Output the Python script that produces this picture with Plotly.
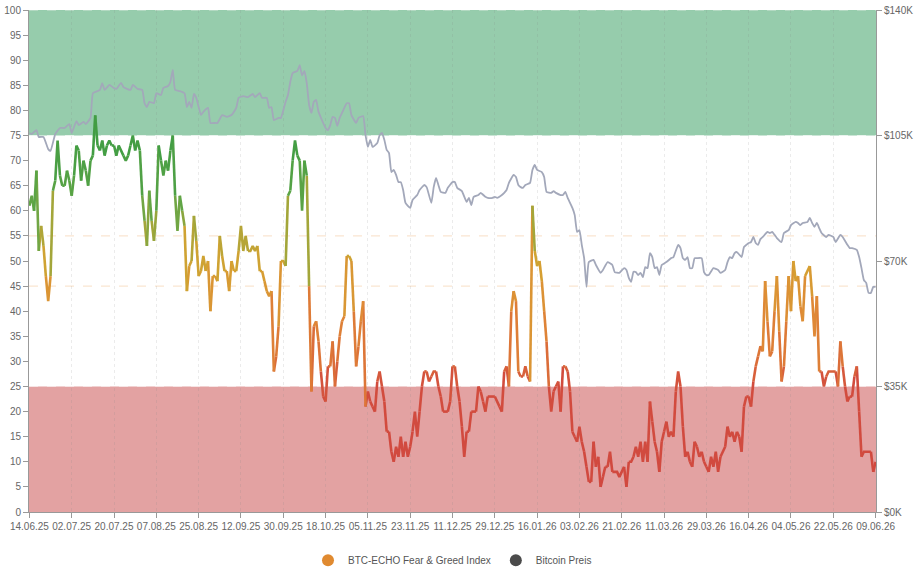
import plotly.graph_objects as go
import pandas as pd

START = "2025-06-14"
END = "2026-06-09"

# BTC-ECHO Fear & Greed Index, one value per day starting at START
FG = [
    61, 63, 60, 68, 52, 57, 53, 47, 42, 47,
    64, 66, 74, 67, 65, 65, 68, 66, 63, 67,
    73, 72, 66, 70, 68, 65, 70, 71, 79, 73,
    72, 74, 71, 73, 74, 73, 73, 71, 73, 72,
    71, 70, 71, 73, 75, 72, 74, 72, 63, 58,
    53, 64, 58, 54, 60, 73, 70, 67, 70, 68,
    72, 75, 63, 56, 63, 60, 57, 44, 49, 50,
    59, 54, 47, 48, 51, 48, 50, 40, 47, 47,
    46, 55, 51, 48, 48, 44, 50, 48, 48, 52,
    57, 52, 55, 52, 52, 53, 52, 53, 48, 48,
    46, 44, 43, 44, 28, 31, 37, 50, 50, 49,
    63, 64, 70, 74, 71, 70, 60, 70, 67, 45,
    24, 37, 38, 34, 28, 23, 22, 29, 29, 34,
    25, 30, 35, 38, 39, 51, 51, 50, 40, 29,
    33, 38, 42, 21, 24, 22, 21, 20, 26, 28,
    25, 22, 16, 16, 12, 10, 13, 11, 15, 11,
    14, 11, 13, 16, 20, 15, 20, 25, 28, 28,
    26, 27, 28, 28, 25, 23, 20, 20, 20, 22,
    29, 29, 25, 22, 17, 11, 16, 16, 20, 20,
    20, 25, 24, 22, 20, 23, 23, 23, 23, 22,
    21, 20, 28, 29, 25, 40, 44, 42, 28, 27,
    27, 29, 27, 26, 61, 52, 49, 50, 46, 40,
    34, 25, 20, 24, 25, 26, 20, 29, 29, 28,
    24, 16, 15, 14, 17, 14, 12, 9, 6, 6,
    14, 9, 11, 5, 7, 9, 9, 12, 8, 8,
    8, 7, 8, 9, 5, 10, 10, 11, 13, 11,
    14, 10, 14, 10, 22, 18, 14, 12, 8, 14,
    16, 18, 15, 16, 15, 24, 28, 25, 17, 11,
    12, 10, 9, 14, 13, 11, 12, 10, 9, 8,
    11, 9, 12, 8, 11, 12, 13, 17, 15, 16,
    14, 16, 15, 12, 21, 23, 23, 21, 26, 29,
    31, 33, 32, 46, 38, 31, 32, 40, 47, 36,
    26, 29, 38, 47, 40, 50, 46, 47, 41, 38,
    47, 48, 49, 43, 35, 43, 28, 28, 25, 27,
    28, 28, 28, 28, 25, 34, 29, 25, 22, 23,
    23, 27, 29, 20, 11, 12, 12, 12, 12, 8, 10,
]

# Bitcoin price (thousand USD) at day offsets from START
BTC_DAY = [
    0, 1, 3, 4, 6, 8, 9, 11, 13, 15, 17, 18, 20, 21, 23, 24, 26, 27, 29, 30,
    31, 32, 34, 36, 37, 39, 40, 43, 44, 46, 48, 49, 50, 51, 53, 54, 56, 57, 59, 60,
    61, 62, 64, 66, 67, 68, 69, 70, 71, 73, 74, 76, 77, 79, 80, 82, 84, 86, 88, 89,
    91, 93, 95, 96, 98, 99, 101, 102, 103, 104, 106, 107, 109, 110, 111, 112, 114, 115, 116, 117,
    118, 119, 120, 121, 122, 123, 126, 127, 128, 129, 130, 131, 132, 133, 135, 136, 137, 139, 140, 142,
    143, 144, 145, 146, 148, 149, 150, 151, 152, 153, 154, 155, 156, 157, 158, 159, 160, 162, 163, 165,
    166, 168, 169, 171, 172, 173, 174, 175, 177, 178, 180, 181, 182, 184, 186, 187, 188, 189, 191, 192,
    194, 195, 197, 198, 199, 201, 202, 203, 204, 206, 207, 208, 209, 210, 211, 213, 214, 215, 216, 218,
    219, 220, 222, 223, 224, 226, 227, 228, 229, 231, 232, 233, 234, 235, 236, 237, 238, 240, 241, 243,
    244, 246, 248, 249, 251, 253, 254, 255, 256, 257, 258, 259, 260, 261, 262, 263, 264, 265, 266, 267,
    268, 269, 271, 273, 274, 276, 277, 278, 279, 280, 281, 282, 283, 284, 286, 287, 288, 289, 291, 293,
    294, 296, 297, 298, 299, 300, 301, 303, 304, 305, 306, 307, 308, 309, 310, 311, 312, 314, 315, 316,
    317, 318, 320, 321, 323, 324, 326, 327, 328, 329, 331, 332, 333, 334, 335, 336, 337, 339, 340, 342,
    343, 345, 346, 348, 349, 350, 352, 353, 354, 355, 356, 357, 358, 359, 360,
]
BTC_K = [
    105.7, 105.4, 106.5, 104.6, 104.6, 101.2, 100.7, 105.4, 107.1, 107.1, 108.2, 105.7, 109.0, 107.9, 108.8, 108.2, 109.9, 116.8, 117.4, 117.7,
    119.6, 117.7, 119.1, 118.2, 118.0, 119.7, 118.5, 117.7, 119.1, 118.0, 117.7, 114.0, 112.9, 114.4, 114.0, 116.8, 116.3, 118.3, 118.8, 120.0,
    123.3, 117.7, 117.4, 116.8, 112.9, 114.4, 112.7, 116.6, 115.5, 110.7, 111.6, 112.7, 108.5, 108.5, 108.5, 110.7, 110.2, 110.7, 112.7, 115.5,
    116.0, 115.7, 116.6, 115.7, 116.8, 115.5, 115.5, 112.7, 112.9, 109.3, 109.9, 109.9, 114.4, 116.3, 120.0, 122.4, 123.0, 124.6, 121.8, 123.0,
    119.6, 113.5, 111.3, 114.4, 114.9, 111.6, 107.1, 106.5, 107.9, 110.2, 109.9, 107.7, 109.9, 111.3, 114.0, 114.0, 110.7, 108.5, 109.9, 110.4,
    105.1, 101.8, 103.8, 101.8, 102.9, 105.1, 105.7, 103.8, 101.0, 100.1, 94.8, 95.4, 94.0, 92.0, 92.0, 89.8, 86.2, 84.8, 87.0, 88.4,
    89.8, 91.2, 90.6, 86.2, 90.6, 93.2, 91.2, 89.3, 89.0, 90.4, 92.0, 92.0, 90.4, 89.5, 86.5, 87.6, 85.6, 87.9, 88.4, 89.0,
    87.9, 87.6, 87.6, 87.9, 87.6, 88.4, 89.0, 89.8, 91.8, 94.0, 93.4, 91.2, 90.6, 90.4, 91.2, 91.8, 95.4, 96.8, 95.4, 94.8,
    93.4, 89.3, 89.0, 89.5, 89.0, 88.4, 88.4, 89.3, 87.6, 84.8, 82.8, 78.1, 78.6, 74.5, 70.8, 62.8, 69.7, 70.3, 68.9, 66.7,
    67.5, 69.7, 68.9, 66.9, 66.7, 68.0, 67.5, 65.3, 64.2, 67.0, 66.9, 66.1, 66.7, 65.5, 68.3, 68.0, 72.2, 71.1, 68.0, 68.3,
    66.1, 68.9, 69.7, 70.8, 71.1, 74.5, 73.6, 70.8, 70.3, 71.1, 68.0, 68.0, 70.8, 70.8, 70.8, 66.9, 66.1, 66.1, 68.0, 67.5,
    66.7, 67.5, 69.7, 71.1, 70.8, 72.2, 72.5, 71.1, 73.9, 74.5, 75.0, 75.3, 76.7, 75.0, 74.5, 76.1, 76.7, 78.1, 77.8, 78.1,
    77.3, 76.4, 75.3, 77.8, 78.6, 80.0, 80.9, 80.6, 80.0, 80.6, 80.9, 82.0, 80.6, 79.5, 80.6, 79.2, 77.8, 76.7, 77.3, 76.7,
    75.3, 77.3, 76.7, 74.5, 73.6, 73.6, 73.1, 71.1, 68.0, 64.7, 63.9, 61.1, 61.1, 62.8, 62.8,
]

FG_TICKS = list(range(0, 101, 5))
PRICE_TICKS = [0, 35, 70, 105, 140]
PRICE_LABELS = ["$0K", "$35K", "$70K", "$105K", "$140K"]
TICK_STEP_DAYS = 18
FG_NAME = "BTC-ECHO Fear & Greed Index"
BTC_NAME = "Bitcoin Preis"

start = pd.Timestamp(START)
fg_dates = [(start + pd.Timedelta(days=i)).strftime("%Y-%m-%d") for i in range(len(FG))]
btc_dates = [(start + pd.Timedelta(days=int(d))).strftime("%Y-%m-%d") for d in BTC_DAY]

# value -> colour stops (vertical gradient of the index line)
STOPS = [
    (0, (208, 72, 64)), (25, (210, 76, 62)), (31, (221, 116, 56)),
    (40, (223, 138, 54)), (49, (213, 162, 50)), (55, (176, 166, 56)),
    (61, (100, 166, 70)), (72, (68, 158, 68)), (100, (54, 150, 62)),
]


def colour(v):
    for (a, ca), (b, cb) in zip(STOPS[:-1], STOPS[1:]):
        if a <= v <= b:
            t = (v - a) / (b - a)
            c = [round(ca[k] + (cb[k] - ca[k]) * t) for k in range(3)]
            return "rgb(%d,%d,%d)" % tuple(c)
    return "rgb(%d,%d,%d)" % STOPS[-1][1]


# group consecutive segments into runs with the same colour bin
runs = []
for i in range(len(FG) - 1):
    key = round((FG[i] + FG[i + 1]) / 2)
    if runs and runs[-1][0] == key and runs[-1][1][-1] == i:
        runs[-1][1].append(i + 1)
    else:
        runs.append([key, [i, i + 1]])

groups = {}
for key, idx in runs:
    xs, ys = groups.setdefault(key, ([], []))
    xs.extend([fg_dates[j] for j in idx] + [None])
    ys.extend([FG[j] for j in idx] + [None])

fig = go.Figure()

fig.add_trace(go.Scatter(
    x=btc_dates, y=BTC_K, yaxis="y2", mode="lines",
    line=dict(color="#A3A8BA", width=1.8, shape="spline", smoothing=0.4),
    showlegend=False, hoverinfo="skip",
))

for key in sorted(groups):
    xs, ys = groups[key]
    fig.add_trace(go.Scatter(
        x=xs, y=ys, mode="lines", connectgaps=False,
        line=dict(color=colour(key), width=2.6),
        showlegend=False, hoverinfo="skip",
    ))

fig.add_trace(go.Scatter(x=[None], y=[None], mode="markers", name=FG_NAME,
                         marker=dict(color="#E08A30", size=11)))
fig.add_trace(go.Scatter(x=[None], y=[None], mode="markers", name=BTC_NAME,
                         marker=dict(color="#4B4B4B", size=11)))

shapes = [
    dict(type="rect", xref="paper", yref="y", x0=0, x1=1, y0=75, y1=100,
         fillcolor="#96CCAC", line=dict(width=0), layer="below"),
    dict(type="rect", xref="paper", yref="y", x0=0, x1=1, y0=0, y1=25,
         fillcolor="#E3A2A2", line=dict(width=0), layer="below"),
]
for yv, col in [(75, "#EAF4EE"), (25, "#F6E4E4"), (100, "#CFE6D8"),
                (45, "#F8DFC5"), (55, "#F8DFC5")]:
    shapes.append(dict(type="line", xref="paper", yref="y", x0=0, x1=1, y0=yv, y1=yv,
                       line=dict(color=col, width=1, dash="dash"), layer="below"))

axis_font = dict(family="Liberation Sans, Arial, sans-serif", size=10, color="#666666")

fig.update_layout(
    width=920, height=575,
    margin=dict(l=29, r=44, t=10, b=63, autoexpand=False),
    paper_bgcolor="white", plot_bgcolor="white",
    font=dict(family="Liberation Sans, Arial, sans-serif", size=10, color="#555555"),
    shapes=shapes,
    showlegend=True,
    legend=dict(orientation="h", x=0.5, xanchor="center", y=-0.096, yanchor="middle",
                font=dict(size=10, color="#555555"), itemsizing="constant",
                itemwidth=30, bgcolor="rgba(0,0,0,0)", tracegroupgap=0),
    xaxis=dict(
        type="date",
        range=[start - pd.Timedelta(hours=4), pd.Timestamp(END) + pd.Timedelta(hours=4)],
        tick0=START, dtick=TICK_STEP_DAYS * 86400000, tickformat="%d.%m.%y",
        tickangle=0,
        ticks="outside", ticklen=5, tickcolor="#999999",
        showline=True, linecolor="#999999", linewidth=1,
        showgrid=True, gridcolor="rgba(130,130,130,0.16)", griddash="dot", gridwidth=1,
        zeroline=False, tickfont=axis_font, automargin=False,
    ),
    yaxis=dict(
        range=[0, 100], tickvals=FG_TICKS,
        ticks="outside", ticklen=5, tickcolor="#999999",
        showline=True, linecolor="#999999", linewidth=1,
        showgrid=False, zeroline=False, tickfont=axis_font, automargin=False,
    ),
    yaxis2=dict(
        overlaying="y", side="right", range=[0, 140],
        tickvals=PRICE_TICKS, ticktext=PRICE_LABELS,
        ticks="outside", ticklen=5, tickcolor="#999999",
        showline=True, linecolor="#999999", linewidth=1,
        showgrid=False, zeroline=False, tickfont=axis_font, automargin=False,
    ),
)

fig.write_html("out.html")
